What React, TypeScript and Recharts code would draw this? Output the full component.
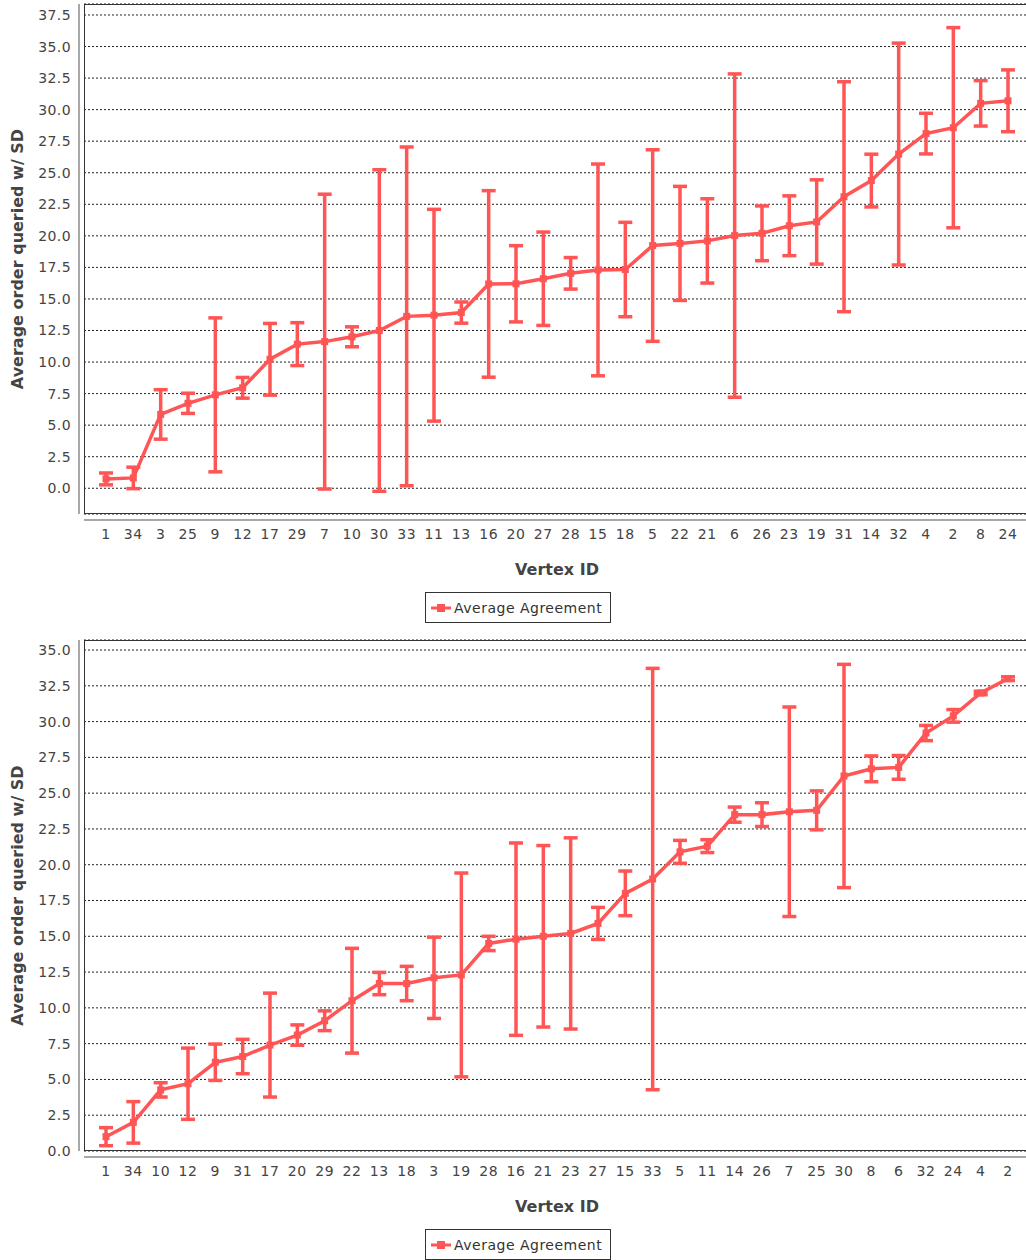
import { ComposedChart, Line, ErrorBar, XAxis, YAxis, CartesianGrid, Legend } from "recharts";

const RED = "#ff5555";
const FONT = "'DejaVu Sans', Verdana, sans-serif";
const TEXT = "#444444";

// upper panel: vertices ordered by average order queried
const topIds = [
  "1", "34", "3", "25", "9", "12", "17", "29", "7", "10", "30", "33", "11", "13", "16", "20", "27",
  "28", "15", "18", "5", "22", "21", "6", "26", "23", "19", "31", "14", "32", "4", "2", "8", "24",
];
const topMeans = [
  0.74, 0.82, 5.85, 6.73, 7.4, 7.96, 10.22, 11.42, 11.62, 12.0, 12.5, 13.62, 13.71, 13.92, 16.19, 16.2, 16.6,
  17.03, 17.3, 17.33, 19.23, 19.4, 19.6, 20.02, 20.2, 20.8, 21.1, 23.1, 24.38, 26.48, 28.1, 28.57, 30.5, 30.7,
];
const topSds = [
  0.47, 0.85, 1.96, 0.8, 6.1, 0.82, 2.84, 1.7, 11.68, 0.79, 12.74, 13.42, 8.39, 0.84, 7.39, 3.02, 3.7,
  1.25, 8.39, 3.74, 7.59, 4.52, 3.34, 12.81, 2.17, 2.37, 3.34, 9.11, 2.09, 8.79, 1.61, 7.93, 1.8, 2.45,
];
const topTicks = [0, 2.5, 5, 7.5, 10, 12.5, 15, 17.5, 20, 22.5, 25, 27.5, 30, 32.5, 35, 37.5];

// lower panel
const bottomIds = [
  "1", "34", "10", "12", "9", "31", "17", "20", "29", "22", "13", "18", "3", "19", "28", "16", "21",
  "23", "27", "15", "33", "5", "11", "14", "26", "7", "25", "30", "8", "6", "32", "24", "4", "2",
];
const bottomMeans = [
  1.0, 2.0, 4.27, 4.7, 6.2, 6.6, 7.4, 8.1, 9.1, 10.5, 11.7, 11.7, 12.1, 12.3, 14.5, 14.8, 15.0,
  15.2, 15.9, 18.0, 19.0, 20.9, 21.3, 23.5, 23.5, 23.7, 23.8, 26.2, 26.7, 26.8, 29.2, 30.4, 32.0, 33.0,
];
const bottomSds = [
  0.63, 1.45, 0.5, 2.49, 1.27, 1.2, 3.63, 0.71, 0.69, 3.66, 0.78, 1.2, 2.84, 7.12, 0.5, 6.72, 6.34,
  6.68, 1.12, 1.56, 14.72, 0.8, 0.45, 0.53, 0.83, 7.32, 1.36, 7.8, 0.9, 0.83, 0.53, 0.44, 0.12, 0.13,
];
const bottomTicks = [0, 2.5, 5, 7.5, 10, 12.5, 15, 17.5, 20, 22.5, 25, 27.5, 30, 32.5, 35];

const CHART_W = 1034;
const PLOT_LEFT = 84;
const PLOT_RIGHT = 1030;
const PLOT_TOP = 4;

type Row = { id: string; mean: number; sd: number };

const toRows = (ids: string[], means: number[], sds: number[]): Row[] =>
  ids.map((id, i) => ({ id, mean: means[i], sd: sds[i] }));

const squareDot = (p: any) => (
  <rect key={`dot-${p.index}`} x={p.cx - 3.5} y={p.cy - 3.5} width={7} height={7} fill={RED} />
);

const renderLegend = (props: any) => {
  const item = props.payload && props.payload[0];
  if (!item) return null;
  return (
    <div
      style={{
        boxSizing: "border-box",
        width: 186,
        height: 31,
        border: "1px solid #333",
        background: "#fff",
        display: "flex",
        alignItems: "center",
        paddingLeft: 4,
        fontFamily: FONT,
        fontSize: 14,
        letterSpacing: 0.5,
        color: "#333",
      }}
    >
      <svg width={22} height={12}>
        <line x1={1} y1={6} x2={21} y2={6} stroke={RED} strokeWidth={3} />
        <rect x={7} y={2} width={8} height={8} fill={RED} />
      </svg>
      <span style={{ marginLeft: 2 }}>{item.value}</span>
    </div>
  );
};

type PanelProps = {
  top: number;
  height: number;
  plotHeight: number;
  rows: Row[];
  domain: [number, number];
  ticks: number[];
};

const Panel = ({ top, height, plotHeight, rows, domain, ticks }: PanelProps) => {
  const plotBottom = PLOT_TOP + plotHeight;
  return (
    <div style={{ position: "absolute", left: 0, top, width: CHART_W, height }}>
      <ComposedChart
        width={CHART_W}
        height={height}
        data={rows}
        margin={{ top: PLOT_TOP, right: CHART_W - PLOT_RIGHT, bottom: 0, left: 0 }}
      >
        <CartesianGrid vertical={false} stroke="#222" strokeDasharray="2 2" />
        <XAxis
          dataKey="id"
          interval={0}
          axisLine={false}
          tickLine={false}
          tickSize={0}
          tickMargin={15}
          height={height - PLOT_TOP - plotHeight}
          padding={{ left: 22, right: 22 }}
          tick={{ fontFamily: FONT, fontSize: 14, fill: TEXT, letterSpacing: 0.6 }}
          label={{
            content: (p: any) => {
              const vb = p.viewBox;
              return (
                <text
                  x={vb.x + vb.width / 2}
                  y={vb.y + 55}
                  textAnchor="middle"
                  dominantBaseline="central"
                  fontFamily={FONT}
                  fontSize={16}
                  fontWeight="bold"
                  fill={TEXT}
                >
                  Vertex ID
                </text>
              );
            },
          }}
        />
        <YAxis
          type="number"
          domain={domain}
          ticks={ticks}
          allowDataOverflow
          width={PLOT_LEFT}
          axisLine={false}
          tickLine={false}
          tickSize={0}
          tickMargin={13}
          tickFormatter={(v: number) => v.toFixed(1)}
          tick={{ fontFamily: FONT, fontSize: 14, fill: TEXT, letterSpacing: 0.4 }}
          label={{
            content: (p: any) => {
              const vb = p.viewBox;
              const cx = 17;
              const cy = vb.y + vb.height / 2;
              return (
                <text
                  x={cx}
                  y={cy}
                  transform={`rotate(-90 ${cx} ${cy})`}
                  textAnchor="middle"
                  dominantBaseline="central"
                  fontFamily={FONT}
                  fontSize={16}
                  fontWeight="bold"
                  fill={TEXT}
                >
                  Average order queried w/ SD
                </text>
              );
            },
          }}
        />
        <Legend
          verticalAlign="middle"
          align="center"
          layout="horizontal"
          content={renderLegend}
          wrapperStyle={{ left: 425, top: plotBottom + 78, width: 186, height: 31 }}
        />
        <Line
          dataKey="mean"
          name="Average Agreement"
          stroke={RED}
          strokeWidth={3.5}
          dot={squareDot}
          activeDot={false}
          isAnimationActive={false}
        >
          <ErrorBar dataKey="sd" width={7} strokeWidth={3.5} stroke={RED} isAnimationActive={false} />
        </Line>
      </ComposedChart>
      {/* plot frame and offset axis lines */}
      <div
        style={{
          position: "absolute",
          left: PLOT_LEFT,
          top: PLOT_TOP,
          width: PLOT_RIGHT - PLOT_LEFT,
          height: plotHeight,
          border: "1px solid #333",
          boxSizing: "border-box",
          pointerEvents: "none",
        }}
      />
      <div style={{ position: "absolute", left: 78, top: PLOT_TOP, width: 2, height: plotHeight, background: "#a8a8a8" }} />
      <div
        style={{
          position: "absolute",
          left: PLOT_LEFT,
          top: plotBottom + 5,
          width: PLOT_RIGHT - PLOT_LEFT,
          height: 2,
          background: "#a8a8a8",
        }}
      />
    </div>
  );
};

export default function App() {
  return (
    <div
      style={{
        position: "absolute",
        left: 0,
        top: 0,
        width: 1026,
        height: 1260,
        overflow: "hidden",
        background: "#fff",
      }}
    >
      <Panel
        top={0}
        height={630}
        plotHeight={510}
        rows={toRows(topIds, topMeans, topSds)}
        domain={[-2.04, 38.37]}
        ticks={topTicks}
      />
      <Panel
        top={636}
        height={624}
        plotHeight={511}
        rows={toRows(bottomIds, bottomMeans, bottomSds)}
        domain={[0, 35.7]}
        ticks={bottomTicks}
      />
    </div>
  );
}
